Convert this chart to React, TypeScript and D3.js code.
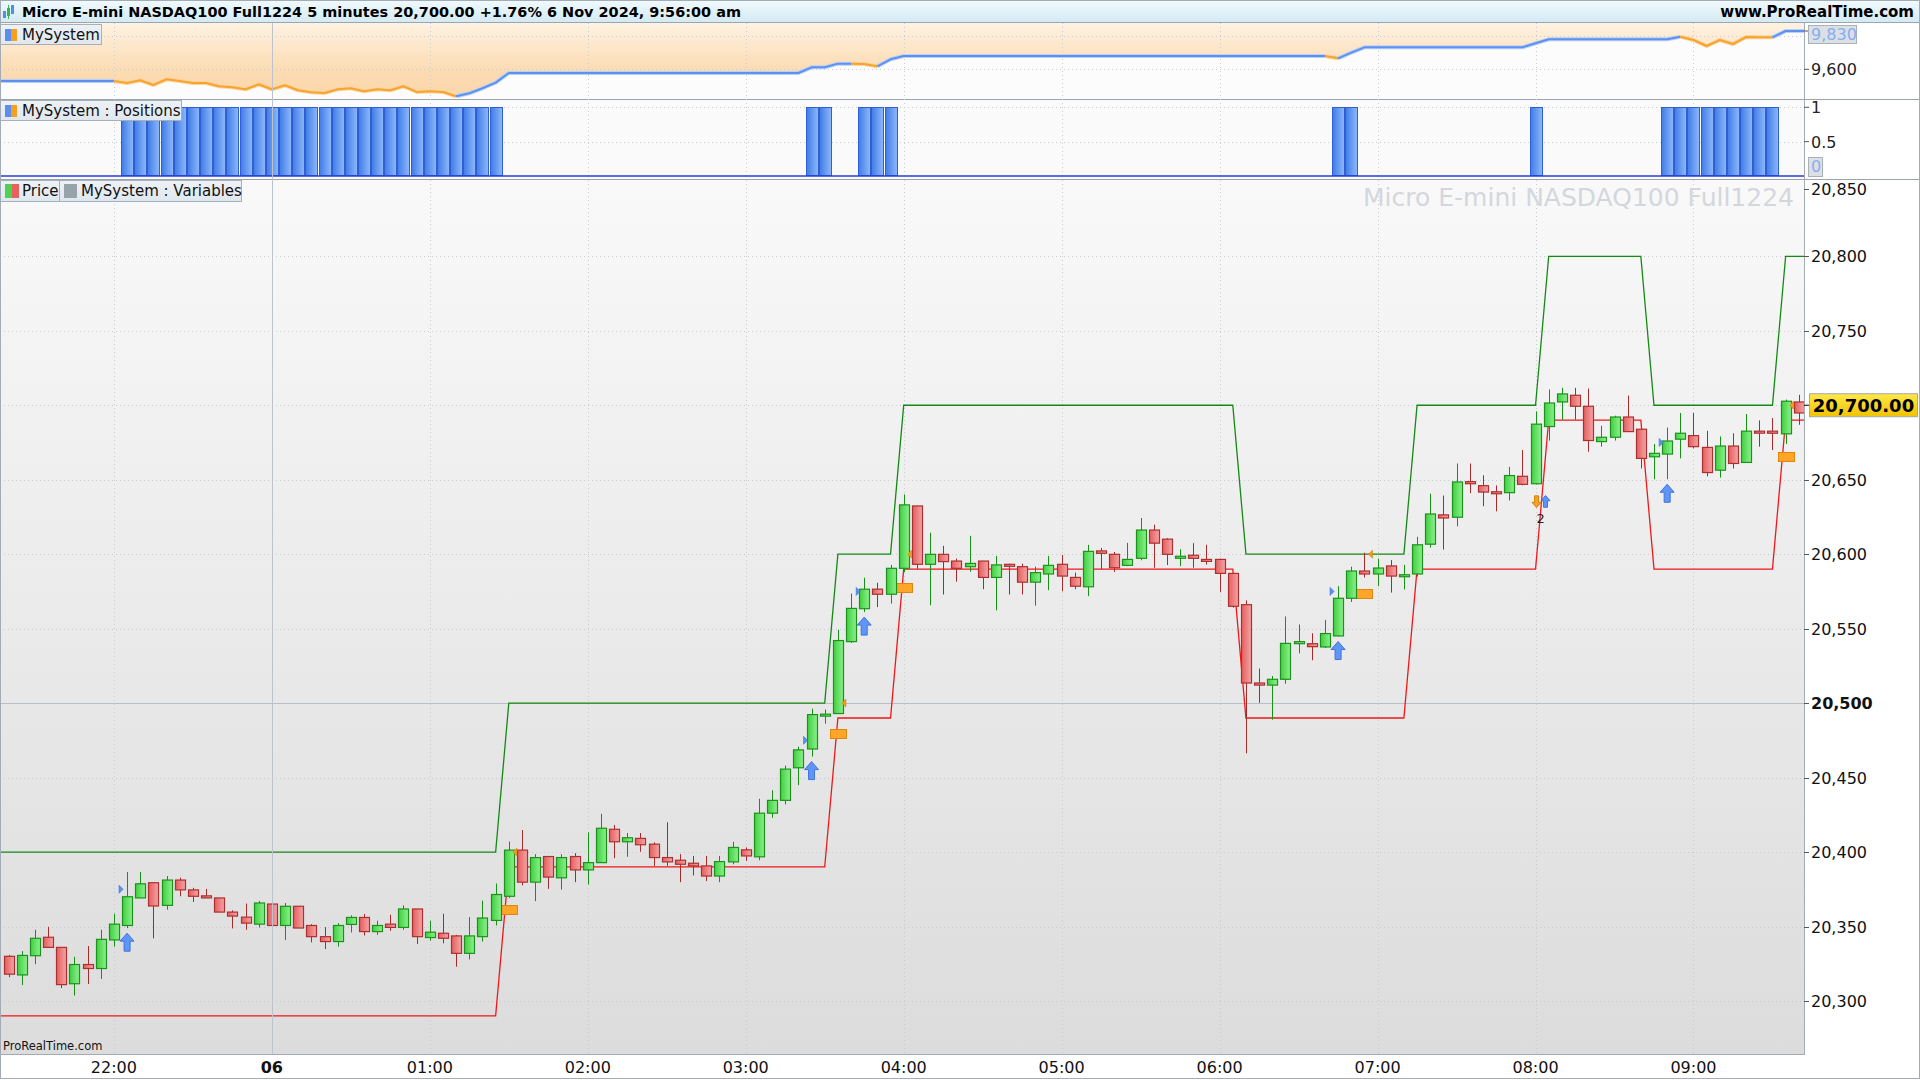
import React, { useEffect } from 'react';
import * as d3 from 'd3';

// ---------------- DATA ----------------
const opens = [
20330,20317.5,20330.4,20342.8,20336,20311.6,20324.5,20321.8,20341,20350.7,
20369.2,20379.4,20364.2,20381.2,20374.6,20370.6,20369.2,20359.7,20356.3,20351.6,
20365.1,20350.7,20363.6,20350.7,20343.2,20339.9,20351.4,20356.1,20346.6,20351.6,
20349.4,20361.8,20342.6,20345.5,20343.7,20332,20343.2,20354.1,20370.3,20401.3,
20379.8,20397,20382.7,20397,20388,20392.9,20415.3,20406.9,20409.2,20405.3,
20396.3,20394.5,20392.5,20390.7,20383.9,20393.4,20401.5,20396.8,20426.1,20434.7,
20456.6,20469.2,20492.3,20493,20541.3,20563.4,20576.5,20573.1,20590.5,20632.4,
20593.2,20599.9,20595.4,20591.6,20595.4,20584.4,20593.2,20591.6,20581.2,20586.7,
20593.2,20584.4,20578.1,20602.2,20599.9,20592.5,20597.2,20616.2,20610.1,20598.1,
20599.3,20596.5,20596.5,20587.1,20566.1,20513.5,20512.1,20516,20539.9,20539.9,
20537.7,20545.1,20570.4,20588.7,20586.7,20592.1,20585.8,20586.7,20606.7,20626.4,
20624.8,20648.7,20646,20641.9,20641.3,20652.3,20647.3,20685.7,20702.2,20706.7,
20699.3,20675.6,20678.5,20692.1,20683.9,20665.4,20667.2,20677.2,20679.6,20671.7,
20656.4,20672.6,20661.6,20682.6,20682.6,20680.8,20702.2];
const highs = [
20331,20333.5,20347.8,20349.8,20336,20329.7,20336.9,20347.8,20358.6,20386.6,
20386.6,20379.4,20383.9,20382.8,20376,20375.3,20369.2,20360.9,20365.4,20367.2,
20365.1,20365.8,20363.6,20351.6,20349.6,20352.3,20357.5,20358.4,20353.9,20357.9,
20364.2,20361.8,20353.9,20358.6,20344.4,20356.3,20367.4,20378.9,20407.1,20414.8,
20398.6,20397,20398.6,20399.3,20413.2,20425.7,20418.2,20412.8,20412.8,20406.5,
20420,20398.6,20397.4,20397.4,20397.4,20406.9,20403.1,20435.8,20441.5,20458,
20470.8,20496.3,20495.7,20549.2,20573.6,20584.2,20580.8,20592.8,20640.1,20632.4,
20614.4,20605.6,20597,20612.3,20595.4,20598.8,20593.6,20593.6,20591.6,20598.8,
20599.5,20587.6,20606.3,20604.2,20601.5,20607.6,20624.3,20619.8,20610.8,20603.3,
20607.4,20606.3,20597,20587.1,20569,20523.2,20518.2,20558.2,20552.8,20546.9,
20555.9,20578.5,20591.6,20601,20597,20596,20592.8,20611.7,20640.6,20639.4,
20660.9,20660.9,20653,20646.2,20658.6,20669.9,20695.9,20710.6,20711.7,20711.7,
20711.2,20686.2,20693,20706.5,20683.9,20674,20685,20694.8,20694.8,20682.8,
20679,20681.2,20694.1,20689.8,20691.4,20703.8,20707];
const lows = [
20316,20310.7,20324.7,20336,20308.7,20303.7,20311.4,20314.8,20336.5,20348.9,
20369.2,20342.1,20361.3,20370.3,20366.5,20369.2,20359.7,20348.7,20347.8,20349.3,
20344.4,20341,20349,20339.4,20334.9,20336.5,20346,20344,20344.4,20347.1,
20347.8,20338.3,20340.5,20338.7,20323,20327.9,20339.9,20350.7,20369.2,20377.6,
20367,20375.3,20374.8,20379.8,20378.2,20392.9,20395.9,20396.8,20400.2,20390.7,
20390.7,20379.8,20384.3,20380.5,20379.8,20391.8,20394.1,20394.5,20423,20432,
20444.9,20464.1,20486.2,20493,20540.4,20561.1,20564.5,20566.8,20588,20590.2,
20565.7,20572.9,20581.5,20588.2,20576.5,20562.3,20572.9,20572.9,20565.4,20575.8,
20575.1,20576.5,20571.8,20590,20588,20592,20595.9,20590.9,20592.7,20592,
20590.9,20593,20574.7,20564.1,20466.3,20500.2,20488.9,20513,20533.4,20528.8,
20537,20544.7,20567.9,20584.4,20578.5,20574.2,20576.3,20585,20604.4,20603.1,
20618.7,20641,20632.2,20628.8,20636,20646.2,20646.9,20676.3,20690.3,20690.3,
20668.8,20672.2,20676.3,20682.3,20657.5,20650.3,20650.3,20664.3,20671.1,20652.3,
20651.4,20657.5,20661.6,20672.2,20669.9,20674,20686.9];
const closes = [
20318,20330.6,20342.1,20336,20311,20324.5,20321.8,20341.4,20351.6,20370,
20378.7,20363.8,20381.2,20374.6,20370.3,20369.2,20359.7,20357,20352.3,20365.8,
20350.7,20363.6,20349,20343.2,20339.9,20350.7,20356.1,20346.6,20350.7,20349.4,
20361.8,20343.2,20346.2,20342.1,20332,20343.7,20355.7,20371.5,20401.3,20379.8,
20396.3,20383.2,20396.3,20388,20392.9,20416,20406.9,20409.6,20404.9,20396.3,
20393.4,20391.8,20390.7,20383.9,20393.6,20403.1,20397.4,20426.1,20434.7,20455.7,
20468.6,20492.3,20492.6,20542,20563.6,20576.5,20573.1,20590.5,20633.1,20593.2,
20599.9,20595,20590.5,20593.8,20584.4,20592.8,20592.1,20581.2,20587.6,20592.5,
20585.3,20578.5,20601.9,20600.6,20590.9,20596.5,20616.2,20607.4,20599.9,20598.6,
20597.2,20595.2,20587.1,20565,20513.5,20512.1,20516,20540.1,20541.3,20537.9,
20546.7,20570.4,20588.7,20586.7,20590.7,20585.3,20586.2,20606.3,20627,20624.3,
20648.5,20647.3,20641.7,20640.6,20652.8,20646.9,20687.3,20701.5,20707.6,20699.3,
20676.3,20678.5,20692.1,20682.3,20664.3,20667.7,20676,20681.2,20672.2,20654.8,
20672.6,20660.9,20682.6,20681.7,20681.2,20702.7,20694.8];

const upperBand = [
20400,20400,20400,20400,20400,20400,20400,20400,20400,20400,
20400,20400,20400,20400,20400,20400,20400,20400,20400,20400,
20400,20400,20400,20400,20400,20400,20400,20400,20400,20400,
20400,20400,20400,20400,20400,20400,20400,20400,20500,20500,
20500,20500,20500,20500,20500,20500,20500,20500,20500,20500,
20500,20500,20500,20500,20500,20500,20500,20500,20500,20500,
20500,20500,20500,20600,20600,20600,20600,20600,20700,20700,
20700,20700,20700,20700,20700,20700,20700,20700,20700,20700,
20700,20700,20700,20700,20700,20700,20700,20700,20700,20700,
20700,20700,20700,20700,20600,20600,20600,20600,20600,20600,
20600,20600,20600,20600,20600,20600,20600,20700,20700,20700,
20700,20700,20700,20700,20700,20700,20700,20800,20800,20800,
20800,20800,20800,20800,20800,20700,20700,20700,20700,20700,
20700,20700,20700,20700,20700,20800,20800];
const lowerBand = [
20290,20290,20290,20290,20290,20290,20290,20290,20290,20290,
20290,20290,20290,20290,20290,20290,20290,20290,20290,20290,
20290,20290,20290,20290,20290,20290,20290,20290,20290,20290,
20290,20290,20290,20290,20290,20290,20290,20290,20390,20390,
20390,20390,20390,20390,20390,20390,20390,20390,20390,20390,
20390,20390,20390,20390,20390,20390,20390,20390,20390,20390,
20390,20390,20390,20490,20490,20490,20490,20490,20590,20590,
20590,20590,20590,20590,20590,20590,20590,20590,20590,20590,
20590,20590,20590,20590,20590,20590,20590,20590,20590,20590,
20590,20590,20590,20590,20490,20490,20490,20490,20490,20490,
20490,20490,20490,20490,20490,20490,20490,20590,20590,20590,
20590,20590,20590,20590,20590,20590,20590,20690,20690,20690,
20690,20690,20690,20690,20690,20590,20590,20590,20590,20590,
20590,20590,20590,20590,20590,20690,20690];

const equity = [
9530,9530,9530,9530,9530,9530,9530,9530,9530,9518,
9534,9506,9540,9530,9518,9518,9498,9492,9480,9510,
9480,9504,9474,9462,9458,9480,9486,9468,9480,9474,
9498,9464,9468,9464,9438,9456,9486,9520,9578,9578,
9578,9578,9578,9578,9578,9578,9578,9578,9578,9578,
9578,9578,9578,9578,9578,9578,9578,9578,9578,9578,
9578,9612,9612,9634,9634,9632,9618,9660,9680,9680,
9680,9680,9680,9680,9680,9680,9680,9680,9680,9680,
9680,9680,9680,9680,9680,9680,9680,9680,9680,9680,
9680,9680,9680,9680,9680,9680,9680,9680,9680,9680,
9680,9666,9700,9732,9732,9732,9732,9732,9732,9732,
9732,9732,9732,9732,9732,9732,9756,9780,9780,9780,
9780,9780,9780,9780,9780,9780,9780,9796,9776,9740,
9776,9752,9794,9792,9792,9830,9830];
// 1 = the equity segment ending on this bar is drawn in drawdown colour
const equityDrawdown = [
0,0,0,0,0,0,0,0,0,1,
1,1,1,1,1,1,1,1,1,1,
1,1,1,1,1,1,1,1,1,1,
1,1,1,1,1,0,0,0,0,0,
0,0,0,0,0,0,0,0,0,0,
0,0,0,0,0,0,0,0,0,0,
0,0,0,0,0,1,1,0,0,0,
0,0,0,0,0,0,0,0,0,0,
0,0,0,0,0,0,0,0,0,0,
0,0,0,0,0,0,0,0,0,0,
0,1,0,0,0,0,0,0,0,0,
0,0,0,0,0,0,0,0,0,0,
0,0,0,0,0,0,0,0,1,1,
1,1,1,1,1,0,0];

const positions = [
0,0,0,0,0,0,0,0,0,1,
1,1,1,1,1,1,1,1,1,1,
1,1,1,1,1,1,1,1,1,1,
1,1,1,1,1,1,1,1,0,0,
0,0,0,0,0,0,0,0,0,0,
0,0,0,0,0,0,0,0,0,0,
0,1,1,0,0,1,1,1,0,0,
0,0,0,0,0,0,0,0,0,0,
0,0,0,0,0,0,0,0,0,0,
0,0,0,0,0,0,0,0,0,0,
0,1,1,0,0,0,0,0,0,0,
0,0,0,0,0,0,1,0,0,0,
0,0,0,0,0,0,1,1,1,1,
1,1,1,1,1,0,0];

const timeTickIndex = [8, 20, 32, 44, 56, 68, 80, 92, 104, 116, 128];
const timeTickLabels = ['22:00', '06', '01:00', '02:00', '03:00', '04:00', '05:00', '06:00', '07:00', '08:00', '09:00'];
const dayBreakIndex = 20;
const priceTicks = [20300, 20350, 20400, 20450, 20500, 20550, 20600, 20650, 20750, 20800, 20850];
const priceGrid = [20300, 20350, 20400, 20450, 20550, 20600, 20650, 20700, 20750, 20800];
const roundPrice = 20500;
const lastPrice = 20700;
const equityGrid = [9600, 9800];
const equityLabelTicks = [9600];
const lastEquity = 9830;
const positionGrid = [0.5, 1];
const positionLabels = ['1', '0.5'];
const positionLabelValues = [1, 0.5];

const buyArrowIndex = [9, 61, 65, 101, 126];
const entryMarkIndex = [9, 61, 65, 101, 126];
const entryMarkPrice = [20375, 20475, 20575, 20575, 20675];
const exitBoxIndex = [38, 63, 68, 103, 135];
const exitBoxPrice = [20361, 20479.5, 20577, 20573.5, 20665];
const exitTickIndex = [38, 63, 68, 103, 135];
const exitTickPrice = [20400, 20500, 20600, 20600, 20700];
const roundTripIndex = 116;
const roundTripPrice = 20636;

const titleText = 'Micro E-mini NASDAQ100 Full1224 5 minutes 20,700.00 +1.76% 6 Nov 2024, 9:56:00 am';
const siteText = 'www.ProRealTime.com';
const watermark = 'Micro E-mini NASDAQ100 Full1224';

// ---------------- LAYOUT ----------------
const W = 1920, H = 1080;
const PLOT_R = 1804;
const HEAD_B = 23;
const EQ_T = 23, EQ_B = 99;
const POS_T = 99, POS_B = 179;
const PR_T = 180, PR_B = 1054;
const FONT = 'DejaVu Sans';

const fmt = d3.format(',');

export default function App() {
  useEffect(() => {
    document.body.style.margin = '0';
  }, []);

  const n = closes.length;
  const x = d3.scaleLinear().domain([0, n - 1]).range([8.6, 1798.8]);
  const yP = d3.scaleLinear().domain([20300, 20800]).range([1001, 256.3]);
  const yE = d3.scaleLinear().domain([9600, 9800]).range([69.3, 36]);
  const yPos = d3.scaleLinear().domain([0, 1]).range([176, 107.3]);

  const bandLine = (arr: number[]) => {
    const pts: [number, number][] = [[-1, arr[0]], ...arr.map((v, i) => [i, v] as [number, number]), [n, arr[n - 1]]];
    return d3.line<[number, number]>().x(d => x(d[0])).y(d => yP(d[1]))(pts) || '';
  };

  // equity
  const eqPts: [number, number][] = [[-1, equity[0]], ...equity.map((v, i) => [i, v] as [number, number]), [n, equity[n - 1]]];
  const eqArea = d3.area<[number, number]>().x(d => x(d[0])).y0(EQ_T).y1(d => yE(d[1]))(eqPts) || '';
  const eqAreaBelow = d3.area<[number, number]>().x(d => x(d[0])).y0(EQ_B).y1(d => yE(d[1]))(eqPts) || '';
  const runs: { dd: number; pts: [number, number][] }[] = [];
  for (let k = 0; k < eqPts.length - 1; k++) {
    const a = eqPts[k], b = eqPts[k + 1];
    const idx = Math.max(0, Math.min(n - 1, b[0]));
    const dd = b[0] >= n ? 0 : equityDrawdown[idx];
    const last = runs[runs.length - 1];
    if (last && last.dd === dd) last.pts.push(b);
    else runs.push({ dd, pts: [a, b] });
  }
  const eqLine = d3.line<[number, number]>().x(d => x(d[0])).y(d => yE(d[1]));

  const upArrow = (cx: number, yt: number, s = 1) => {
    const w = 7 * s, hh = 8 * s, sw = 3 * s, h = 18 * s;
    return `M${cx},${yt}L${cx + w},${yt + hh}L${cx + sw},${yt + hh}L${cx + sw},${yt + h}L${cx - sw},${yt + h}L${cx - sw},${yt + hh}L${cx - w},${yt + hh}Z`;
  };
  const downArrow = (cx: number, yb: number, s = 1) => {
    const w = 7 * s, hh = 8 * s, sw = 3 * s, h = 18 * s;
    return `M${cx},${yb}L${cx + w},${yb - hh}L${cx + sw},${yb - hh}L${cx + sw},${yb - h}L${cx - sw},${yb - h}L${cx - sw},${yb - hh}L${cx - w},${yb - hh}Z`;
  };

  return (
    <svg width={W} height={H} style={{ display: 'block', position: 'absolute', left: 0, top: 0 }} fontFamily={FONT}>
      <defs>
        <linearGradient id="hdr" x1="0" y1="0" x2="0" y2="1">
          <stop offset="0%" stopColor="#f1fafd" />
          <stop offset="100%" stopColor="#d3e9f3" />
        </linearGradient>
        <linearGradient id="peach" gradientUnits="userSpaceOnUse" x1="0" y1={EQ_T} x2="0" y2={EQ_B}>
          <stop offset="0%" stopColor="#fef2e2" />
          <stop offset="60%" stopColor="#fcdcb4" />
          <stop offset="100%" stopColor="#fbd5a8" />
        </linearGradient>
        <linearGradient id="prbg" gradientUnits="userSpaceOnUse" x1="0" y1={PR_T} x2="0" y2={PR_B}>
          <stop offset="0%" stopColor="#f9f9f9" />
          <stop offset="100%" stopColor="#dcdcdc" />
        </linearGradient>
        <linearGradient id="gUp" x1="0" y1="0" x2="1" y2="0">
          <stop offset="0%" stopColor="#3fd03f" />
          <stop offset="100%" stopColor="#8ef08e" />
        </linearGradient>
        <linearGradient id="gDn" x1="0" y1="0" x2="1" y2="0">
          <stop offset="0%" stopColor="#e45e5e" />
          <stop offset="100%" stopColor="#f5a5a5" />
        </linearGradient>
        <linearGradient id="gPos" x1="0" y1="0" x2="1" y2="0">
          <stop offset="0%" stopColor="#3f7ce8" />
          <stop offset="100%" stopColor="#8fb8fa" />
        </linearGradient>
        <linearGradient id="gYel" x1="0" y1="0" x2="0" y2="1">
          <stop offset="0%" stopColor="#ffe94a" />
          <stop offset="100%" stopColor="#f1c200" />
        </linearGradient>
        <linearGradient id="gLeg" x1="0" y1="0" x2="0" y2="1">
          <stop offset="0%" stopColor="#edf2f6" />
          <stop offset="100%" stopColor="#dfe7ee" />
        </linearGradient>
        <clipPath id="cEq"><rect x={0} y={EQ_T} width={PLOT_R} height={EQ_B - EQ_T} /></clipPath>
        <clipPath id="cPr"><rect x={0} y={PR_T} width={PLOT_R} height={PR_B - PR_T} /></clipPath>
      </defs>

      <rect x={0} y={0} width={W} height={H} fill="#ffffff" />

      {/* ---------- header ---------- */}
      <rect x={0} y={0} width={W} height={HEAD_B} fill="url(#hdr)" />
      <line x1={0} x2={W} y1={HEAD_B - 0.5} y2={HEAD_B - 0.5} stroke="#9aa6b2" />
      <g>
        <rect x={3} y={11} width={3} height={7} fill="#4f8fe6" />
        <rect x={7} y={8} width={3} height={8} fill="#3bb54a" />
        <rect x={11} y={5} width={3} height={9} fill="#4f8fe6" />
        <line x1={8.5} x2={8.5} y1={5} y2={19} stroke="#3bb54a" />
      </g>
      <text x={22} y={17} fontSize={14.8} fontWeight="bold" fill="#000" textLength={719} lengthAdjust="spacingAndGlyphs">{titleText}</text>
      <text x={1914} y={17} fontSize={15} fontWeight="bold" fill="#000" textAnchor="end">{siteText}</text>

      {/* ---------- equity panel ---------- */}
      <rect x={0} y={EQ_T} width={PLOT_R} height={EQ_B - EQ_T} fill="#fcfcfc" />
      <g clipPath="url(#cEq)">
        <path d={eqArea} fill="url(#peach)" />
        <path d={eqAreaBelow} fill="#fcfcfc" />
        {equityGrid.map(v => (
          <line key={v} x1={0} x2={PLOT_R} y1={Math.round(yE(v)) + 0.5} y2={Math.round(yE(v)) + 0.5} stroke="#c9cdd3" strokeDasharray="1 3" />
        ))}
        {timeTickIndex.map((ti, k) => ti === dayBreakIndex ? null : (
          <line key={k} x1={Math.round(x(ti)) + 0.5} x2={Math.round(x(ti)) + 0.5} y1={EQ_T} y2={EQ_B} stroke="#c9cdd3" strokeDasharray="1 3" />
        ))}
        {runs.map((r, k) => (
          <path key={'h' + k} d={eqLine(r.pts) || ''} fill="none" stroke={r.dd ? '#fcd39a' : '#b9d0f7'} strokeWidth={4} strokeLinejoin="round" />
        ))}
        {runs.map((r, k) => (
          <path key={'l' + k} d={eqLine(r.pts) || ''} fill="none" stroke={r.dd ? '#f6a330' : '#5d91f0'} strokeWidth={2} strokeLinejoin="round" />
        ))}
      </g>
      <line x1={0} x2={W} y1={EQ_B + 0.5} y2={EQ_B + 0.5} stroke="#9aa4ae" />

      {/* ---------- positions panel ---------- */}
      <rect x={0} y={POS_T + 1} width={PLOT_R} height={POS_B - POS_T - 1} fill="#fafafa" />
      {positionGrid.map(v => (
        <line key={v} x1={0} x2={PLOT_R} y1={Math.round(yPos(v)) + 0.5} y2={Math.round(yPos(v)) + 0.5} stroke="#c9cdd3" strokeDasharray="1 3" />
      ))}
      {timeTickIndex.map((ti, k) => ti === dayBreakIndex ? null : (
        <line key={k} x1={Math.round(x(ti)) + 0.5} x2={Math.round(x(ti)) + 0.5} y1={POS_T} y2={POS_B} stroke="#c9cdd3" strokeDasharray="1 3" />
      ))}
      {positions.map((p, i) => p ? (
        <rect key={i} x={Math.round(x(i) - 6) + 0.5} y={Math.round(yPos(p)) + 0.5} width={12} height={Math.round(yPos(0) - yPos(p)) - 1}
          fill="url(#gPos)" stroke="#2f5fd2" strokeWidth={1} />
      ) : null)}
      <line x1={0} x2={PLOT_R} y1={yPos(0)} y2={yPos(0)} stroke="#2a3bd8" strokeWidth={1.6} />
      <line x1={0} x2={W} y1={PR_T - 0.5} y2={PR_T - 0.5} stroke="#9aa4ae" />

      {/* ---------- price panel ---------- */}
      <rect x={0} y={PR_T} width={PLOT_R} height={PR_B - PR_T} fill="url(#prbg)" />
      <g clipPath="url(#cPr)">
        {priceGrid.map(v => (
          <line key={v} x1={0} x2={PLOT_R} y1={Math.round(yP(v)) + 0.5} y2={Math.round(yP(v)) + 0.5} stroke="#c6cad1" strokeDasharray="1 3" />
        ))}
        <line x1={0} x2={PLOT_R} y1={Math.round(yP(roundPrice)) + 0.5} y2={Math.round(yP(roundPrice)) + 0.5} stroke="#b9bfc9" />
        {timeTickIndex.map((ti, k) => ti === dayBreakIndex ? null : (
          <line key={k} x1={Math.round(x(ti)) + 0.5} x2={Math.round(x(ti)) + 0.5} y1={PR_T} y2={PR_B} stroke="#c6cad1" strokeDasharray="1 3" />
        ))}
        <text x={1794} y={206} fontSize={25} fill="#d3d7dc" textAnchor="end">{watermark}</text>

        <path d={bandLine(upperBand)} fill="none" stroke="#138a13" strokeWidth={1.3} />
        <path d={bandLine(lowerBand)} fill="none" stroke="#f01818" strokeWidth={1.3} />

        {exitBoxIndex.map((ii, k) => (
          <rect key={'eb' + k} x={Math.round(x(ii)) - 8 + 0.5} y={Math.round(yP(exitBoxPrice[k])) - 4.5} width={16} height={9}
            fill="#ffa629" stroke="#e0860a" strokeWidth={1} />
        ))}

        {closes.map((c, i) => {
          const o = opens[i];
          const up = c >= o;
          const cx = Math.round(x(i)) + 0.5;
          const top = yP(Math.max(o, c));
          const bot = yP(Math.min(o, c));
          return (
            <g key={i}>
              <line x1={cx} x2={cx} y1={yP(highs[i])} y2={yP(lows[i])} stroke={up ? '#139413' : '#a82b2b'} strokeWidth={1} />
              <rect x={cx - 5} y={top} width={10} height={Math.max(bot - top, 2)}
                fill={`url(#${up ? 'gUp' : 'gDn'})`} stroke={up ? '#1c921c' : '#ad3030'} strokeWidth={1.2} />
            </g>
          );
        })}

        {exitTickIndex.map((ii, k) => {
          const cx = x(ii) + 7, cy = yP(exitTickPrice[k]);
          return <path key={'et' + k} d={`M${cx - 3},${cy}L${cx + 1},${cy - 4}L${cx + 1},${cy + 4}Z`} fill="#f39a1c" stroke="#d98200" strokeWidth={0.6} />;
        })}
        {entryMarkIndex.map((ii, k) => {
          const cx = x(ii) - 7, cy = yP(entryMarkPrice[k]);
          return <path key={'em' + k} d={`M${cx + 3},${cy}L${cx - 1},${cy - 4}L${cx - 1},${cy + 4}Z`} fill="#5d91f0" stroke="#3a6fd8" strokeWidth={0.6} />;
        })}
        {buyArrowIndex.map((ii, k) => (
          <path key={'ba' + k} d={upArrow(x(ii), yP(lows[ii]) + 5)} fill="#5f95f5" stroke="#3f74dc" strokeWidth={1} />
        ))}
        <path d={downArrow(x(roundTripIndex) + 1, yP(roundTripPrice) + 7, 0.65)} fill="#f7a12a" stroke="#d98200" strokeWidth={1} />
        <path d={upArrow(x(roundTripIndex) + 10, yP(roundTripPrice) - 5, 0.65)} fill="#5f95f5" stroke="#3f74dc" strokeWidth={1} />
        <text x={x(roundTripIndex) + 5} y={yP(roundTripPrice) + 22} fontSize={13} fill="#222" textAnchor="middle">2</text>
      </g>

      <line x1={Math.round(x(dayBreakIndex)) + 0.5} x2={Math.round(x(dayBreakIndex)) + 0.5} y1={EQ_T} y2={PR_B} stroke="#bcc3cc" />

      <text x={3} y={1050} fontSize={11.5} fill="#111">ProRealTime.com</text>

      {/* ---------- legends ---------- */}
      <g>
        <rect x={0.5} y={24.5} width={101} height={20} fill="url(#gLeg)" stroke="#a6b0ba" />
        <rect x={5} y={29} width={6} height={12} fill="#5b8ef0" />
        <rect x={11} y={29} width={6} height={12} fill="#f6a020" />
        <text x={22} y={40} fontSize={15} fill="#111">MySystem</text>

        <rect x={0.5} y={100.5} width={181} height={20} fill="url(#gLeg)" stroke="#a6b0ba" />
        <rect x={5} y={105} width={6} height={12} fill="#5b8ef0" />
        <rect x={11} y={105} width={6} height={12} fill="#f6a020" />
        <text x={22} y={116} fontSize={15} fill="#111">MySystem : Positions</text>

        <rect x={0.5} y={180.5} width={59} height={21} fill="url(#gLeg)" stroke="#a6b0ba" />
        <rect x={5} y={184} width={7} height={14} fill="#4fd24f" />
        <rect x={12} y={184} width={7} height={14} fill="#e86060" />
        <text x={22} y={196} fontSize={15} fill="#111">Price</text>
        <rect x={59.5} y={180.5} width={182} height={21} fill="url(#gLeg)" stroke="#a6b0ba" />
        <rect x={64} y={184} width={13} height={14} fill="#97a3ab" />
        <text x={81} y={196} fontSize={15} fill="#111">MySystem : Variables</text>
      </g>

      {/* ---------- right axis ---------- */}
      <rect x={PLOT_R} y={HEAD_B} width={W - PLOT_R} height={PR_B - HEAD_B} fill="#ffffff" />
      <line x1={PLOT_R + 0.5} x2={PLOT_R + 0.5} y1={HEAD_B} y2={PR_B} stroke="#a3abb4" />
      <line x1={PLOT_R} x2={W} y1={EQ_B + 0.5} y2={EQ_B + 0.5} stroke="#9aa4ae" />
      <line x1={PLOT_R} x2={W} y1={PR_T - 0.5} y2={PR_T - 0.5} stroke="#9aa4ae" />

      {equityLabelTicks.map(v => (
        <g key={v}>
          <line x1={PLOT_R} x2={PLOT_R + 5} y1={yE(v)} y2={yE(v)} stroke="#555" />
          <text x={1811} y={yE(v) + 6} fontSize={16} fill="#222">{fmt(v)}</text>
        </g>
      ))}
      <line x1={PLOT_R} x2={PLOT_R + 5} y1={yE(lastEquity)} y2={yE(lastEquity)} stroke="#555" />
      <rect x={1808.5} y={25.5} width={48} height={18} fill="#dcdfe3" stroke="#a8b0b8" />
      <text x={1811} y={40} fontSize={16} fill="#86aef0">{fmt(lastEquity)}</text>

      {positionLabelValues.map((v, k) => (
        <g key={v}>
          <line x1={PLOT_R} x2={PLOT_R + 5} y1={yPos(v)} y2={yPos(v)} stroke="#555" />
          <text x={1811} y={yPos(v) + 6} fontSize={16} fill="#222">{positionLabels[k]}</text>
        </g>
      ))}
      <rect x={1808.5} y={157.5} width={14} height={19} fill="#dcdfe3" stroke="#a8b0b8" />
      <text x={1811} y={172} fontSize={16} fill="#86aef0">0</text>

      {priceTicks.map(v => {
        const yy = v === 20850 ? 189 : yP(v);
        return (
          <g key={v}>
            <line x1={PLOT_R} x2={PLOT_R + 5} y1={Math.round(yy) + 0.5} y2={Math.round(yy) + 0.5} stroke="#555" />
            <text x={1811} y={yy + 6} fontSize={16} fill="#111" fontWeight={v === roundPrice ? 'bold' : 'normal'}>{fmt(v)}</text>
          </g>
        );
      })}
      <line x1={PLOT_R} x2={1809} y1={yP(lastPrice)} y2={yP(lastPrice)} stroke="#000" />
      <rect x={1809.5} y={yP(lastPrice) - 11.5} width={108} height={23} fill="url(#gYel)" stroke="#a0a8b0" />
      <text x={1863.5} y={yP(lastPrice) + 6.5} fontSize={18} fontWeight="bold" fill="#000" textAnchor="middle">{d3.format(',.2f')(lastPrice)}</text>

      {/* ---------- time axis ---------- */}
      <rect x={0} y={PR_B} width={W} height={H - PR_B} fill="#ffffff" />
      <line x1={0} x2={PLOT_R + 1} y1={PR_B + 0.5} y2={PR_B + 0.5} stroke="#a3abb4" />
      {timeTickIndex.map((ti, k) => (
        <text key={k} x={x(ti)} y={1073} fontSize={16} fill="#111" textAnchor="middle" fontWeight={ti === dayBreakIndex ? 'bold' : 'normal'}>
          {timeTickLabels[k]}
        </text>
      ))}
      <rect x={0.5} y={0.5} width={W - 1} height={H - 2} fill="none" stroke="#a3abb4" />
    </svg>
  );
}
